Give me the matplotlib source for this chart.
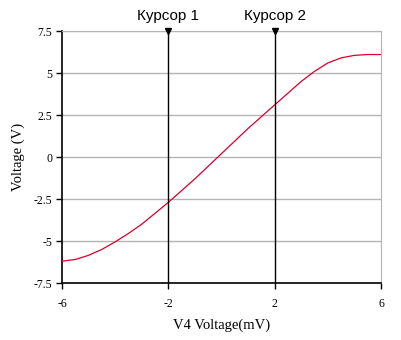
import matplotlib
matplotlib.use('Agg')
import matplotlib.pyplot as plt

plt.rcParams['axes.unicode_minus'] = False

# curve
v4_mv = [-6, -5.5, -5, -4.5, -4, -3.5, -3, -2.5, -2, -1.5, -1, -0.5, 0,
         0.5, 1, 1.5, 2, 2.5, 3, 3.5, 4, 4.5, 5, 5.5, 6]
volt = [-6.2, -6.1, -5.85, -5.5, -5.05, -4.55, -4.0, -3.35, -2.7, -2.0, -1.3,
        -0.55, 0.2, 0.95, 1.7, 2.4, 3.1, 3.8, 4.5, 5.1, 5.6, 5.9, 6.05, 6.1, 6.1]

cursor_x = [-2, 2]
cursor_names = ['Курсор 1', 'Курсор 2']
x_ticks = [-6, -2, 2, 6]
y_ticks = [-7.5, -5, -2.5, 0, 2.5, 5, 7.5]
y_tick_labels = ['-7.5', '-5', '-2.5', '0', '2.5', '5', '7.5']

fig = plt.figure(figsize=(4.02, 3.40), dpi=100)
ax = fig.add_axes([0.1542, 0.1676, 0.7935, 0.7412])

ax.set_xlim(-6, 6)
ax.set_ylim(-7.5, 7.5)
ax.set_yticks(y_ticks)
ax.set_yticklabels(y_tick_labels)
ax.set_xticks(x_ticks)
ax.grid(axis='y', color='#b4b4b4', linewidth=1)
ax.set_axisbelow(True)

for s in ['top', 'right']:
    ax.spines[s].set_color('#b4b4b4')
for s in ['left', 'bottom']:
    ax.spines[s].set_color('black')
    ax.spines[s].set_linewidth(1.2)

ax.tick_params(axis='y', direction='out', length=4, width=1, labelsize=8.5, pad=3)
ax.tick_params(axis='x', direction='out', length=4, width=1, labelsize=8.5, pad=7)
for lab in ax.get_xticklabels() + ax.get_yticklabels():
    lab.set_family('Liberation Serif')

ax.plot(v4_mv, volt, color='#d8002a', linewidth=0.9, zorder=3)

for cx, name in zip(cursor_x, cursor_names):
    ax.axvline(cx, color='black', linewidth=1.0, zorder=4)
    ax.plot([cx], [7.5], marker='v', color='black', markersize=5,
            clip_on=False, zorder=5)
    ax.annotate(name, xy=(cx, 7.5), xytext=(0, 6), textcoords='offset points',
                ha='center', va='bottom', fontsize=11, family='Liberation Sans')

ax.set_xlabel('V4 Voltage(mV)', family='Liberation Serif', fontsize=10.5, labelpad=6)
ax.set_ylabel('Voltage (V)', family='Liberation Serif', fontsize=10.5, labelpad=6)

fig.savefig('out.png', dpi=100)
